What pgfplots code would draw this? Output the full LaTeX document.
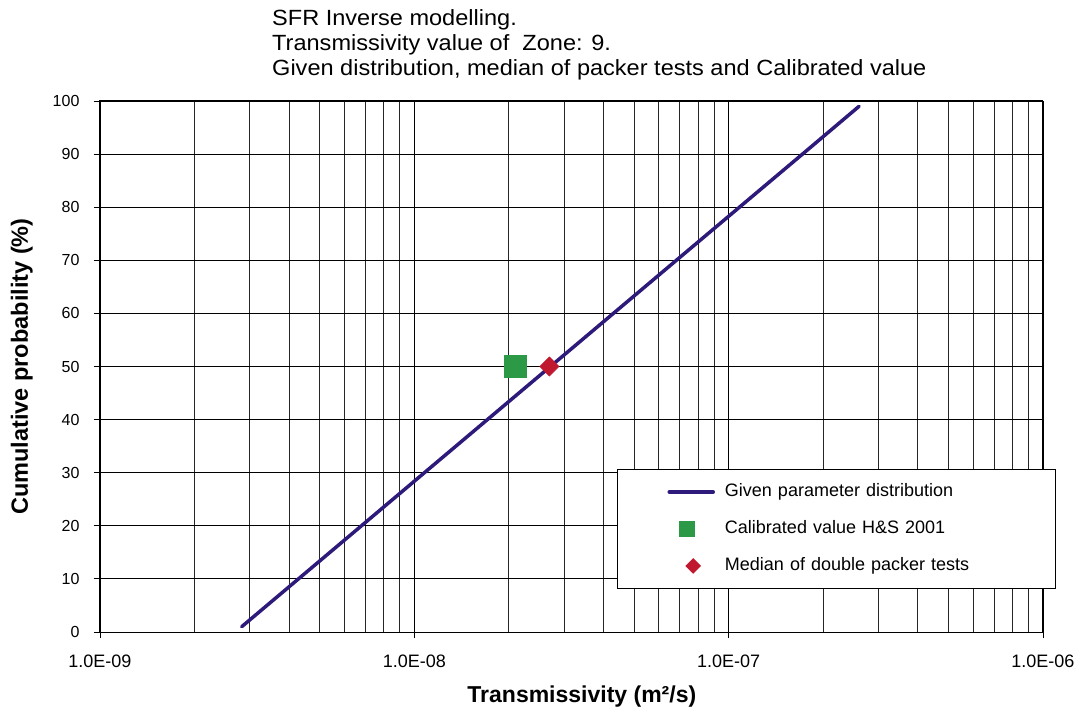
\documentclass[border=0pt]{standalone}
\usepackage{pgfplots}
\pgfplotsset{compat=1.18}
\usepackage{fontspec}
\setmainfont{Liberation Sans}
\newfontfamily\titlefont{Liberation Sans}[FakeStretch=1.07]
\definecolor{distline}{RGB}{46,26,122}
\definecolor{calgreen}{RGB}{43,153,70}
\definecolor{medred}{RGB}{192,24,46}
% legend images: a line sample, and single marks at given offsets
\pgfplotsset{
  leglinesample/.style={legend image code/.code={%
    \path[draw=none,fill=none] (-52pt,0pt) (0pt,0pt);
    \draw[##1] (0pt,0pt) -- (44pt,0pt);}},
  legmark/.style 2 args={legend image code/.code={%
    \path[draw=none,fill=none] (-52pt,0pt) (44pt,0pt);
    \draw[##1, mark size=#2] plot coordinates {(#1,0pt)};}},
}

\begin{document}
\begin{tikzpicture}[x=1pt,y=1pt]
\useasboundingbox (0,0) rectangle (1080,716);
\begin{axis}[
  at={(100pt,84pt)}, anchor=south west,
  scale only axis, width=943pt, height=531pt,
  xmode=log, log basis x=10,
  xmin=1e-9, xmax=1e-6, ymin=0, ymax=100,
  xtick={1e-9,1e-8,1e-7,1e-6},
  xticklabels={1.0E-09,1.0E-08,1.0E-07,1.0E-06},
  minor xtick={2e-9,3e-9,4e-9,5e-9,6e-9,7e-9,8e-9,9e-9,
               2e-8,3e-8,4e-8,5e-8,6e-8,7e-8,8e-8,9e-8,
               2e-7,3e-7,4e-7,5e-7,6e-7,7e-7,8e-7,9e-7},
  ytick={0,10,...,100},
  minor ytick={},
  /pgf/number format/assume math mode=true,
  xmajorgrids, xminorgrids, ymajorgrids,
  major grid style={black, line width=0.9pt},
  minor grid style={black!85, line width=0.9pt},
  axis line style={black, line width=1pt},
  tick style={black, line width=0.9pt},
  tick align=outside, major tick length=6pt, minor tick length=0pt,
  xtick pos=bottom, ytick pos=left,
  yticklabel style={font=\fontsize{16}{19}\selectfont, xshift=-11pt},
  xticklabel style={font=\fontsize{18}{21}\selectfont, yshift=-13pt},
  xlabel={\bfseries Transmissivity (m²/s)},
  ylabel={\bfseries Cumulative probability (\%)},
  xlabel style={font=\fontsize{23}{27}\selectfont, at={(axis description cs:0.511,-0.1224)}, anchor=center},
  ylabel style={font=\fontsize{23.5}{27}\selectfont, at={(axis description cs:-0.083,0.5)}, anchor=center},
  legend style={at={(0.548,0.307)}, anchor=north west, draw=black, line width=1pt,
    font=\fontsize{18}{21}\selectfont, inner xsep=0pt, inner ysep=14pt, row sep=20pt,
    nodes={inner sep=0pt, text width=331pt, text height=13pt, text depth=4pt},
    /tikz/every odd column/.append style={column sep=10pt}},
  legend cell align=left,
]
% fitted distribution of the transmissivity (straight in log space)
\addplot[distline, line width=3.5pt, line cap=round, leglinesample] coordinates {
  (2.825e-9,1) (4.28e-9,10) (1.077e-8,30) (2.71e-8,50) (6.82e-8,70) (1.718e-7,90) (2.60e-7,99)
};
\addlegendentry{Given parameter distribution}
% calibrated value
\addplot[only marks, mark=square*, mark size=11pt, mark options={fill=calgreen, draw=calgreen},
  legmark={18pt}{7.5pt}] coordinates {(2.09e-8,50)};
\addlegendentry{Calibrated value H\&S 2001}
% median of double packer tests
\addplot[only marks, mark=square*, mark size=6.8pt, mark options={fill=medred, draw=medred, rotate=45},
  legmark={24pt}{5pt}] coordinates {(2.69e-8,50)};
\addlegendentry{Median of double packer tests}
\end{axis}
\node[anchor=north west, align=left, font=\titlefont\fontsize{22}{25}\selectfont, inner sep=0pt] at (272,707)
  {SFR Inverse modelling.\\Transmissivity value of\ \ Zone: 9.\\Given distribution, median of packer tests and Calibrated value};
\end{tikzpicture}
\end{document}
